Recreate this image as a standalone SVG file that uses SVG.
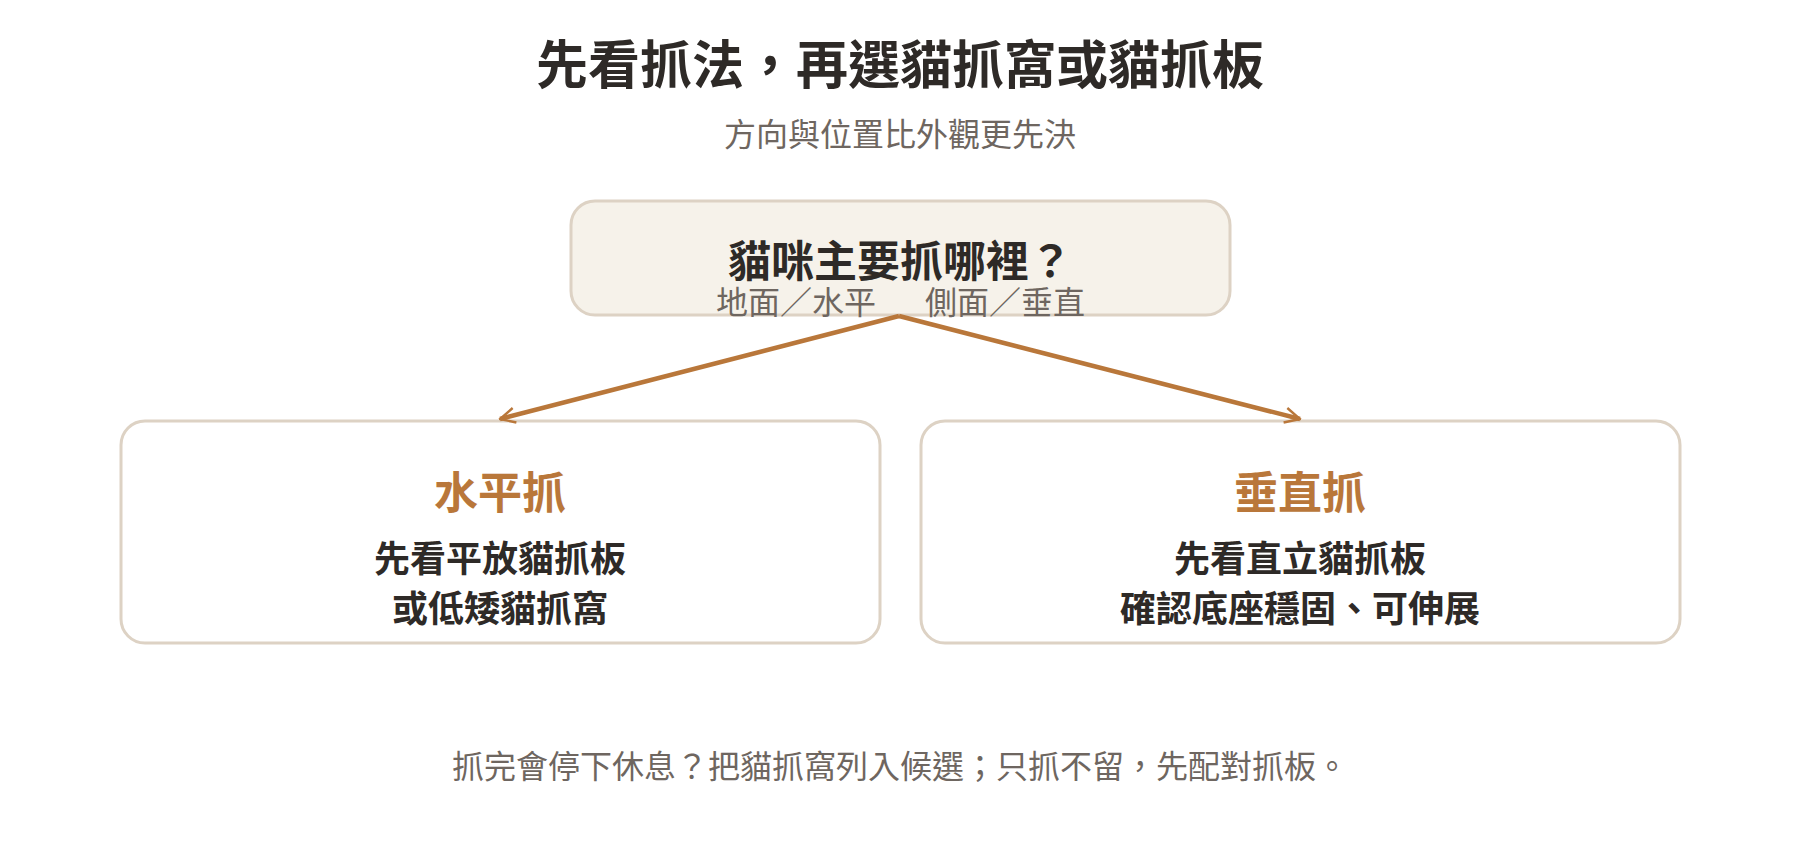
<svg xmlns="http://www.w3.org/2000/svg" width="1800" height="860" viewBox="0 0 1800 860">
<defs>
<style>
text{font-family:"Noto Sans CJK TC","Noto Sans CJK SC",sans-serif;text-anchor:middle}
.title{font-size:52px;font-weight:700;fill:#2e2a27}
.sub{font-size:32px;fill:#6e6660}
.q{font-size:43px;font-weight:700;fill:#2e2a27}
.lbl{font-size:32px;fill:#6e6660}
.head{font-size:44px;font-weight:700;fill:#b9773a}
.body{font-size:36px;font-weight:700;fill:#2e2a27}
.card{fill:#ffffff;stroke:#ddd2c4;stroke-width:3}
.root{fill:#f6f2ea;stroke:#ddd2c4;stroke-width:3}
.edge{stroke:#b9773a;stroke-width:4.5;fill:none}
</style>
<marker id="arr" viewBox="0 0 12 12" refX="11" refY="6" markerWidth="18" markerHeight="18" markerUnits="userSpaceOnUse" orient="auto">
<path d="M1,1 L11,6 L1,11" fill="none" stroke="#b9773a" stroke-width="1.6"/>
</marker>
</defs>
<rect width="1800" height="860" fill="#ffffff"/>
<g id="header">
<text class="title" x="900" y="84">先看抓法，再選貓抓窩或貓抓板</text>
<text class="sub" x="900" y="146">方向與位置比外觀更先決</text>
</g>
<g id="node-root">
<rect class="root" x="571" y="201" width="659" height="114" rx="24"/>
<text class="q" x="900" y="277">貓咪主要抓哪裡？</text>
</g>
<g id="node-horizontal">
<rect class="card" x="121" y="421" width="759" height="222" rx="24"/>
<text class="head" x="500" y="509">水平抓</text>
<text class="body" x="500" y="572">先看平放貓抓板</text>
<text class="body" x="500" y="622">或低矮貓抓窩</text>
</g>
<g id="node-vertical">
<rect class="card" x="921" y="421" width="759" height="222" rx="24"/>
<text class="head" x="1300" y="509">垂直抓</text>
<text class="body" x="1300" y="572">先看直立貓抓板</text>
<text class="body" x="1300" y="622">確認底座穩固、可伸展</text>
</g>
<g id="connectors">
<line class="edge" x1="899" y1="316" x2="500" y2="419" marker-end="url(#arr)"/>
<line class="edge" x1="899" y1="316" x2="1300" y2="419" marker-end="url(#arr)"/>
<text class="lbl" x="796" y="314">地面／水平</text>
<text class="lbl" x="1005" y="314">側面／垂直</text>
</g>
<g id="footer">
<text class="sub" x="900" y="778">抓完會停下休息？把貓抓窩列入候選；只抓不留，先配對抓板。</text>
</g>
</svg>
